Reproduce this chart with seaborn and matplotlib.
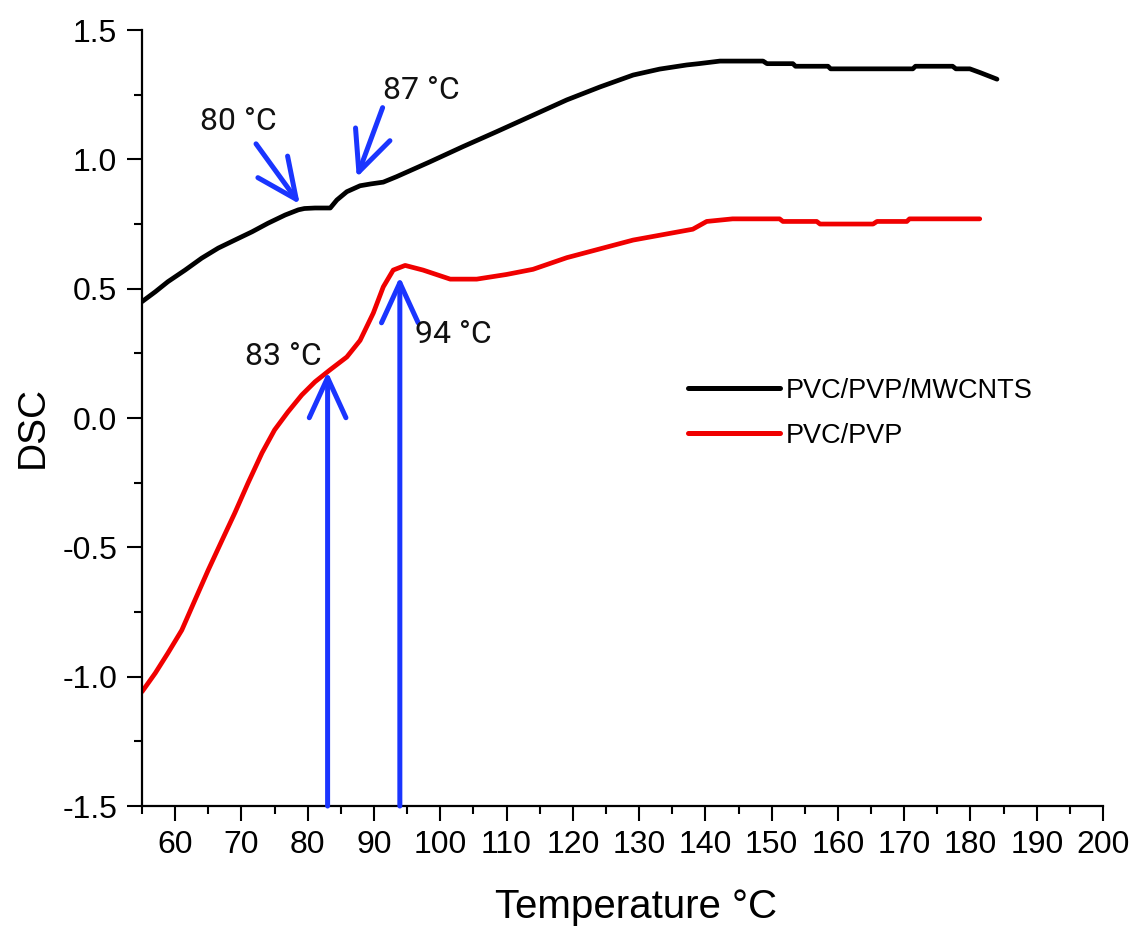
import matplotlib
matplotlib.use("Agg")
import matplotlib.pyplot as plt
from matplotlib.ticker import MultipleLocator
import numpy as np
import pandas as pd
import seaborn as sns

# DSC traces (temperature in °C, DSC signal)
temp_cnt = [55.0, 57.0, 58.9, 61.5, 64.0, 66.5, 69.0, 71.6, 74.0, 76.6, 78.6,
            79.5, 81.1, 83.4, 84.4, 85.9, 87.9, 89.5, 91.4, 93.4, 98.4, 103.4,
            108.5, 113.5, 119.1, 124.1, 129.1, 133.1, 137.2, 139.0, 142.2,
            148.7, 149.3, 153.2, 153.6, 158.5, 158.9, 171.3, 171.7, 177.3,
            177.8, 179.9, 181.5, 183.0, 184.0]
dsc_cnt = [0.450, 0.488, 0.527, 0.572, 0.618, 0.657, 0.688, 0.720, 0.753,
           0.785, 0.805, 0.810, 0.812, 0.812, 0.843, 0.875, 0.898, 0.905,
           0.912, 0.933, 0.990, 1.049, 1.107, 1.165, 1.230, 1.280, 1.326,
           1.349, 1.365, 1.370, 1.380, 1.380, 1.370, 1.370, 1.360, 1.360,
           1.350, 1.350, 1.360, 1.360, 1.350, 1.350, 1.335, 1.320, 1.310]

temp_pvp = [55.0, 57.0, 58.9, 61.0, 63.0, 65.0, 67.1, 69.0, 71.0, 73.1, 75.0,
            77.0, 79.1, 81.1, 83.3, 85.9, 87.9, 89.9, 91.4, 92.9, 94.7, 97.4,
            101.5, 105.5, 110.0, 114.0, 119.1, 129.1, 138.1, 140.2, 144.1,
            151.2, 151.7, 156.8, 157.3, 165.3, 165.9, 170.4, 170.8, 181.4]
dsc_pvp = [-1.058, -0.986, -0.909, -0.820, -0.703, -0.587, -0.471, -0.367,
           -0.251, -0.135, -0.046, 0.023, 0.089, 0.140, 0.185, 0.236, 0.300,
           0.406, 0.507, 0.572, 0.590, 0.572, 0.537, 0.537, 0.555, 0.575,
           0.620, 0.688, 0.730, 0.760, 0.770, 0.770, 0.760, 0.760, 0.750,
           0.750, 0.760, 0.760, 0.770, 0.770]

series_names = ["PVC/PVP/MWCNTS", "PVC/PVP"]
series_colors = ["#000000", "#f00000"]

# Transition markers: (label, text position, arrow start, arrow tip)
marker_labels = ["80 °C", "87 °C", "83 °C", "94 °C"]
label_pos = [(69.6, 1.146), (97.2, 1.268), (76.4, 0.236), (102.0, 0.323)]
arrow_from = [(72.2, 1.06), (91.3, 1.20), (83.0, -1.5), (93.9, -1.5)]
arrow_to = [(78.8, 0.827), (87.4, 0.930), (83.0, 0.179), (93.9, 0.546)]

df = pd.concat([
    pd.DataFrame({"Temperature": temp_cnt, "DSC": dsc_cnt, "sample": series_names[0]}),
    pd.DataFrame({"Temperature": temp_pvp, "DSC": dsc_pvp, "sample": series_names[1]}),
], ignore_index=True)

sns.set_style("ticks")
plt.rcParams["font.family"] = ["Liberation Sans", "DejaVu Sans"]
plt.rcParams["text.color"] = "black"
plt.rcParams["axes.labelcolor"] = "black"

fig = plt.figure(figsize=(11.29, 9.27), dpi=100)
ax = fig.add_axes([0.1258, 0.1305, 0.8512, 0.8371])

sns.lineplot(data=df, x="Temperature", y="DSC", hue="sample",
             hue_order=series_names, palette=series_colors,
             estimator=None, sort=False, linewidth=3.4, ax=ax)

blue = "#1a35ff"
for text, pos, start, tip in zip(marker_labels, label_pos, arrow_from, arrow_to):
    ax.annotate("", xy=tip, xytext=start,
                arrowprops=dict(arrowstyle="->,head_length=0.72,head_width=0.33",
                                color=blue, lw=3.6, shrinkA=0, shrinkB=0,
                                mutation_scale=40),
                annotation_clip=False)
    ax.text(pos[0], pos[1], text, ha="center", va="center", fontsize=23,
            family=["Roboto", "DejaVu Sans"], color="#111111")

ax.set_xlim(55, 200)
ax.set_ylim(-1.5, 1.5)
ax.xaxis.set_major_locator(MultipleLocator(10))
ax.xaxis.set_minor_locator(MultipleLocator(5))
ax.yaxis.set_major_locator(MultipleLocator(0.5))
ax.yaxis.set_minor_locator(MultipleLocator(0.25))
ax.set_xticks(np.arange(60, 201, 10))
ax.set_yticks(np.arange(-1.5, 1.51, 0.5))
ax.set_yticklabels([f"{v:.1f}" for v in np.arange(-1.5, 1.51, 0.5)])

ax.tick_params(axis="both", which="major", length=11, width=1.5,
               labelsize=23, colors="black", direction="out")
ax.tick_params(axis="x", which="major", pad=6)
ax.tick_params(axis="y", which="major", pad=7)
ax.tick_params(axis="both", which="minor", length=5.5, width=1.5,
               direction="out", colors="black")

for side in ["top", "right"]:
    ax.spines[side].set_visible(False)
for side in ["left", "bottom"]:
    ax.spines[side].set_linewidth(1.6)
    ax.spines[side].set_color("black")

ax.set_xlabel("Temperature °C", fontsize=29, color="black")
ax.set_ylabel("DSC", fontsize=28, color="black")
ax.xaxis.set_label_coords(0.514, -0.105)
ax.yaxis.set_label_coords(-0.095, 0.489)

handles, labels = ax.get_legend_handles_labels()
leg = ax.legend(handles, labels, loc="upper left",
                bbox_to_anchor=(0.568, 0.552), frameon=False, fontsize=19.5,
                handlelength=3.4, handletextpad=0.2, labelspacing=0.7,
                borderpad=0, borderaxespad=0)
for line in leg.get_lines():
    line.set_linewidth(3.6)
for t in leg.get_texts():
    t.set_color("black")

fig.savefig("out.png", dpi=100)
